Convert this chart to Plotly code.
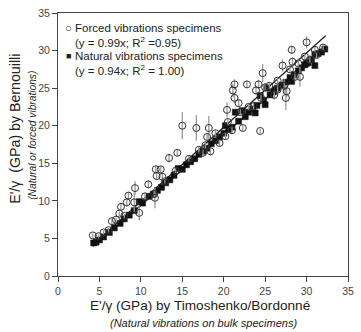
import plotly.graph_objects as go

# Forced vibrations specimens (open circles with error bars)
forced_x = [4.2, 4.9, 5.5, 6.1, 6.5, 7.0, 7.4, 7.6, 8.0, 8.3, 8.5, 9.2, 9.3, 9.8, 10.5, 10.9,
            11.6, 11.7, 11.8, 11.9, 12.4, 12.6, 12.9, 13.4, 14.2, 14.4, 15.0, 15.8, 16.7, 17.0,
            17.5, 17.8, 18.0, 18.2, 18.4, 19.0, 19.5, 20.2, 20.4, 20.5, 21.0, 21.1, 21.3, 21.3,
            21.8, 22.0, 22.3, 22.8, 23.0, 23.6, 23.9, 24.2, 24.4, 24.5, 24.7, 25.0, 25.5, 26.1,
            26.5, 26.5, 27.1, 27.3, 27.5, 27.6, 28.0, 28.2, 28.3, 28.6, 29.0, 29.2, 29.8, 30.0,
            30.4, 31.0, 31.2, 32.0]
forced_y = [5.4, 5.3, 5.8, 6.1, 7.3, 7.5, 8.3, 9.2, 8.0, 9.8, 10.7, 9.8, 11.7, 8.4, 10.6, 12.2,
            10.9, 10.4, 14.2, 13.3, 14.2, 13.2, 12.6, 15.7, 14.0, 16.4, 20.0, 15.6, 19.7, 16.8,
            16.4, 17.4, 18.5, 19.7, 16.6, 19.0, 17.7, 18.6, 22.1, 20.5, 19.4, 24.7, 25.5, 23.7,
            23.0, 21.8, 19.7, 25.5, 22.5, 22.6, 24.7, 25.5, 19.3, 23.7, 27.0, 25.1, 25.3, 24.1,
            24.8, 26.0, 28.0, 25.3, 23.7, 24.6, 27.5, 30.1, 28.5, 26.5, 28.3, 26.5, 29.2, 31.1,
            28.8, 30.1, 29.4, 30.4]
forced_err = [0.3, 0.3, 0.3, 0.3, 0.4, 0.3, 0.3, 0.5, 0.3, 0.6, 0.5, 1.3, 0.9, 1.0, 0.4, 0.5,
              0.5, 1.4, 0.5, 0.5, 0.4, 0.5, 0.3, 0.6, 0.3, 0.5, 1.8, 0.4, 1.7, 0.4,
              0.4, 0.5, 0.4, 1.6, 0.5, 0.4, 0.4, 0.5, 1.0, 0.4, 0.5, 0.9, 0.7, 0.7,
              0.5, 0.4, 0.4, 0.5, 0.4, 0.5, 0.6, 0.6, 0.3, 0.6, 1.2, 0.6, 0.4, 0.6,
              0.7, 0.4, 0.8, 0.9, 1.6, 0.8, 0.4, 0.5, 0.6, 0.6, 0.6, 1.3, 0.4, 0.8,
              0.5, 0.4, 0.4, 0.4]

# Natural vibrations specimens (filled squares)
natural_x = [4.3, 4.6, 5.0, 5.5, 6.2, 6.8, 7.5, 8.0, 8.6, 9.2, 9.8, 10.2, 11.0, 11.5, 12.0,
             12.5, 13.0, 13.5, 14.0, 14.5, 15.0, 15.5, 16.0, 16.5, 17.0, 17.5, 18.0, 18.5,
             19.0, 19.5, 20.0, 20.2, 20.6, 21.0, 21.4, 21.8, 22.2, 22.6, 23.0, 23.5, 23.8,
             24.0, 24.4, 24.8, 25.0, 25.2, 25.6, 26.0, 26.2, 26.5, 27.0, 27.5, 28.0, 28.2,
             28.5, 29.0, 29.4, 29.8, 30.0, 30.2, 30.6, 31.0, 31.0, 31.4, 31.8, 32.2]
natural_y = [4.4, 4.5, 4.8, 5.2, 5.8, 6.4, 7.0, 7.6, 8.1, 8.7, 9.9, 9.7, 10.6, 10.9, 11.4,
             11.8, 12.4, 12.8, 13.4, 14.3, 14.2, 14.8, 15.2, 15.6, 16.2, 16.6, 17.0, 17.6,
             18.0, 18.5, 19.0, 20.0, 19.5, 19.8, 21.8, 20.6, 22.0, 21.2, 21.8, 22.2, 21.7,
             22.7, 24.0, 23.4, 22.8, 25.0, 24.1, 24.5, 24.8, 25.0, 25.4, 25.8, 26.4, 25.9,
             26.8, 27.3, 27.7, 28.1, 28.3, 28.4, 28.8, 29.5, 28.0, 29.6, 29.8, 30.2]

# Regression fits
fit_x = [4.2, 32.3]
forced_slope = 0.99
natural_slope = 0.94

x_ticks = [0, 5, 10, 15, 20, 25, 30, 35]
y_ticks = [0, 5, 10, 15, 20, 25, 30, 35]

legend_lines = [
    ("○", "Forced vibrations specimens"),
    ("", "(y = 0.99x; R<sup>2</sup> =0.95)"),
    ("■", "Natural vibrations specimens"),
    ("", "(y = 0.94x; R<sup>2</sup> = 1.00)"),
]

font_family = "Liberation Sans, Arial, sans-serif"
fig = go.Figure()

fig.add_trace(go.Scatter(
    x=fit_x, y=[forced_slope * v for v in fit_x], mode="lines",
    line=dict(color="#222222", width=1.3), showlegend=False, hoverinfo="skip"))
fig.add_trace(go.Scatter(
    x=fit_x, y=[natural_slope * v for v in fit_x], mode="lines",
    line=dict(color="#222222", width=1.3), showlegend=False, hoverinfo="skip"))

fig.add_trace(go.Scatter(
    x=natural_x, y=natural_y, mode="markers", name="Natural vibrations specimens",
    marker=dict(symbol="square", size=6, color="#111111", line=dict(color="#111111", width=0.5)),
    showlegend=False))

fig.add_trace(go.Scatter(
    x=forced_x, y=forced_y, mode="markers", name="Forced vibrations specimens",
    error_y=dict(type="data", array=forced_err, color="#999999", thickness=1.3, width=0),
    marker=dict(symbol="circle-open", size=7, color="#333333", line=dict(width=1)),
    showlegend=False))

fig.update_layout(
    width=361, height=332,
    margin=dict(l=58, r=7, t=11, b=56),
    paper_bgcolor="white", plot_bgcolor="white",
    font=dict(family=font_family, size=11, color="#222222"),
    showlegend=False,
    xaxis=dict(range=[0, 35], tickvals=x_ticks, showgrid=False, zeroline=False,
               showline=True, linecolor="#444444", linewidth=1, mirror=True,
               ticks="outside", ticklen=5, tickcolor="#444444",
               tickfont=dict(size=10.5, color="#444444")),
    yaxis=dict(range=[0, 35], tickvals=y_ticks, showgrid=False, zeroline=False,
               showline=True, linecolor="#444444", linewidth=1, mirror=True,
               ticks="outside", ticklen=5, tickcolor="#444444",
               tickfont=dict(size=10.5, color="#444444")),
)

# Legend drawn as text (symbol + label), top-left inside the plot
legend_y = [0.943, 0.89, 0.837, 0.784]
for (sym, label), yy in zip(legend_lines, legend_y):
    if sym:
        fig.add_annotation(text=sym, xref="paper", yref="paper", x=0.037, y=yy,
                           xanchor="center", yanchor="middle", showarrow=False,
                           font=dict(size=9 if sym == "■" else 11.5, color="#222222"))
    fig.add_annotation(text=label, xref="paper", yref="paper", x=0.05, y=yy,
                       xanchor="left", yanchor="middle", showarrow=False,
                       font=dict(size=11.5, color="#222222"))

fig.add_annotation(text="E'/γ (GPa) by Timoshenko/Bordonné", xref="paper", yref="paper",
                   x=0.49, y=-0.113, xanchor="center", yanchor="middle", showarrow=False,
                   font=dict(size=13.6, color="#222222"))
fig.add_annotation(text="<i>(Natural vibrations on bulk specimens)</i>", xref="paper", yref="paper",
                   x=0.5, y=-0.177, xanchor="center", yanchor="middle", showarrow=False,
                   font=dict(size=11, color="#222222"))
fig.add_annotation(text="E'/γ  (GPa) by Bernouilli", xref="paper", yref="paper",
                   x=-0.148, y=0.56, xanchor="center", yanchor="middle", textangle=-90,
                   showarrow=False, font=dict(size=14.2, color="#222222"))
fig.add_annotation(text="<i>(Natural or forced vibrations)</i>", xref="paper", yref="paper",
                   x=-0.088, y=0.535, xanchor="center", yanchor="middle", textangle=-90,
                   showarrow=False, font=dict(size=10.2, color="#222222"))

fig.write_html("out.html")
